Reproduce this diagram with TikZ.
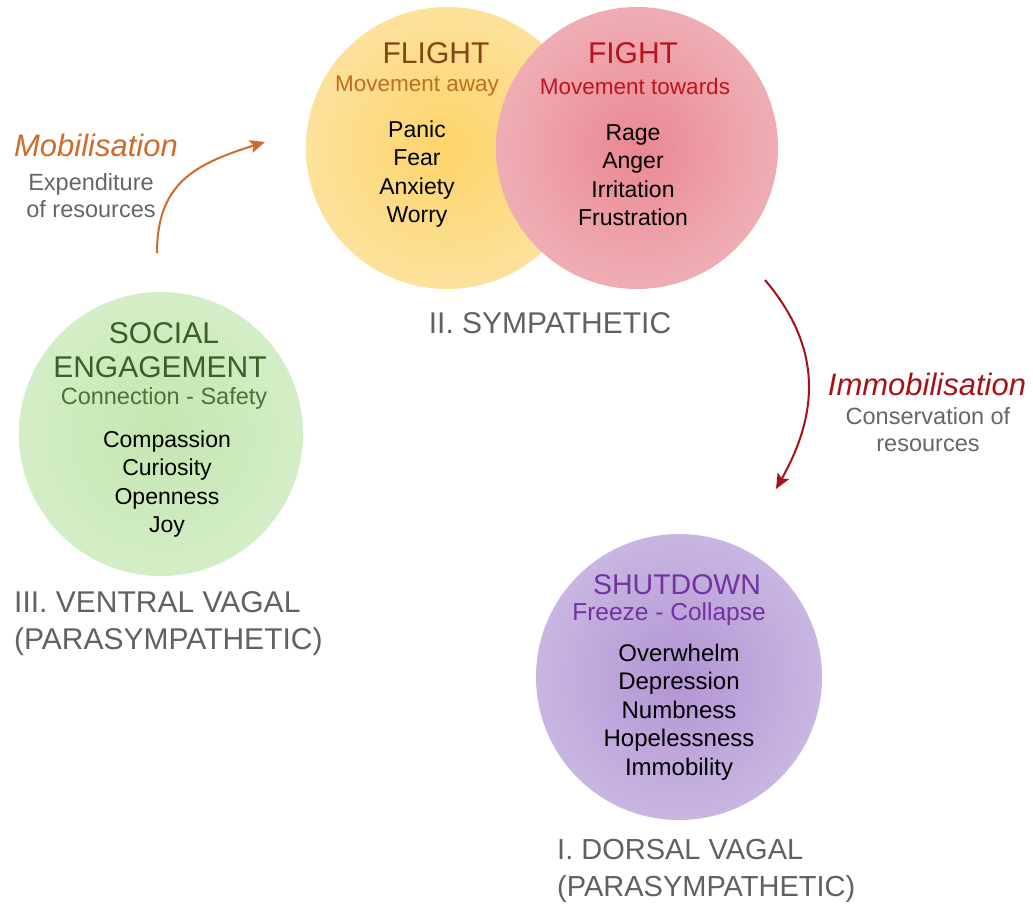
\documentclass[tikz,border=0pt]{standalone}
\usepackage{fontspec}
\setmainfont{Liberation Sans}
\usetikzlibrary{arrows.meta}

\newlength{\du}
\setlength{\du}{1\unitlength}

\definecolor{flightcore}{RGB}{253,212,105}
\definecolor{flightmid}{RGB}{253,224,150}
\definecolor{flightrim}{RGB}{254,236,190}
\definecolor{fightcore}{RGB}{234,135,146}
\definecolor{fightmid}{RGB}{239,170,177}
\definecolor{fightrim}{RGB}{243,196,200}
\definecolor{socialcore}{RGB}{196,230,176}
\definecolor{socialmid}{RGB}{210,237,196}
\definecolor{socialrim}{RGB}{224,244,215}
\definecolor{shutcore}{RGB}{178,148,212}
\definecolor{shutmid}{RGB}{198,178,224}
\definecolor{shutrim}{RGB}{220,208,238}
\pgfdeclareradialshading{flightglow}{\pgfpoint{0bp}{0bp}}{color(0bp)=(flightcore); color(22bp)=(flightmid); color(50bp)=(flightrim)}
\pgfdeclareradialshading{fightglow}{\pgfpoint{0bp}{0bp}}{color(0bp)=(fightcore); color(22bp)=(fightmid); color(50bp)=(fightrim)}
\pgfdeclareradialshading{socialglow}{\pgfpoint{0bp}{0bp}}{color(0bp)=(socialcore); color(22bp)=(socialmid); color(50bp)=(socialrim)}
\pgfdeclareradialshading{shutglow}{\pgfpoint{0bp}{0bp}}{color(0bp)=(shutcore); color(22bp)=(shutmid); color(50bp)=(shutrim)}

\tikzset{
  head/.style={inner sep=0pt, font=\fontsize{30}{34}\selectfont},
  sub/.style={inner sep=0pt, font=\fontsize{22.5}{27}\selectfont},
  feel/.style={inner sep=0pt, align=center, font=\fontsize{23}{28.5}\selectfont},
  branch/.style={inner sep=0pt, anchor=west, align=left, text=greylabel, font=\fontsize{30}{37}\selectfont},
  flow/.style={inner sep=0pt, font=\fontsize{31}{36}\selectfont\itshape},
  note/.style={inner sep=0pt, align=center, text=greynote, font=\fontsize{23.5}{27}\selectfont},
  sweep/.style={line width=2pt, -{Stealth[length=15pt, width=13pt, inset=3pt]}},
}

\begin{document}
\begin{tikzpicture}
  \pgftransformxscale{1.000000}
  \pgftransformyscale{-1.000000}
  \definecolor{greylabel}{rgb}{0.380, 0.380, 0.380}
  \definecolor{greynote}{rgb}{0.400, 0.400, 0.400}
  \definecolor{orangeflow}{rgb}{0.820, 0.420, 0.160}
  \definecolor{redflow}{rgb}{0.650, 0.070, 0.090}
  \useasboundingbox[fill=white] (0\du,0\du) rectangle (1033\du,904\du);
  % the four states
  \shade[shading=flightglow] (447\du,148\du) circle (141\du);
  \shade[shading=fightglow] (637\du,148\du) circle (141\du);
  \shade[shading=socialglow] (161\du,434\du) circle (142\du);
  \shade[shading=shutglow] (679\du,677\du) circle (143\du);
  % flight
  \node[head, text={rgb,255:red,130;green,70;blue,20}] (flight) at (436\du,53\du) {FLIGHT};
  \node[sub, text={rgb,255:red,190;green,110;blue,30}] (flightsub) at (417\du,86\du) {Movement away};
  \node[feel] (flightlist) at (417\du,174\du) {Panic\\Fear\\Anxiety\\Worry};
  % fight
  \node[head, text={rgb,255:red,180;green,20;blue,30}] (fight) at (633\du,53\du) {FIGHT};
  \node[sub, text={rgb,255:red,190;green,20;blue,30}] (fightsub) at (635\du,86\du) {Movement towards};
  \node[feel] (fightlist) at (633\du,175\du) {Rage\\Anger\\Irritation\\Frustration};
  \node[branch, anchor=center] (symp) at (550\du,323\du) {II. SYMPATHETIC};
  % social engagement
  \node[head, text={rgb,255:red,60;green,95;blue,40}] (social) at (164\du,333\du) {SOCIAL};
  \node[head, text={rgb,255:red,60;green,95;blue,40}] (engage) at (160\du,367\du) {ENGAGEMENT};
  \node[sub, font=\fontsize{23.5}{27}\selectfont, text={rgb,255:red,75;green,115;blue,55}] (socialsub) at (164\du,398\du) {Connection - Safety};
  \node[feel] (sociallist) at (167\du,484\du) {Compassion\\Curiosity\\Openness\\Joy};
  \node[branch] (ventral) at (14\du,624\du) {III. VENTRAL VAGAL\\(PARASYMPATHETIC)};
  % shutdown
  \node[head, font=\fontsize{28.5}{34}\selectfont, text={rgb,255:red,115;green,50;blue,160}] (shut) at (677\du,585\du) {SHUTDOWN};
  \node[sub, font=\fontsize{24.5}{28}\selectfont, text={rgb,255:red,115;green,50;blue,160}] (shutsub) at (669\du,614\du) {Freeze - Collapse};
  \node[feel, font=\fontsize{24}{28.5}\selectfont] (shutlist) at (679\du,712\du) {Overwhelm\\Depression\\Numbness\\Hopelessness\\Immobility};
  \node[branch, font=\fontsize{29}{37}\selectfont] (dorsal) at (557\du,871\du) {I. DORSAL VAGAL\\(PARASYMPATHETIC)};
  % transitions
  \node[flow, text=orangeflow] (mobil) at (96\du,145\du) {Mobilisation};
  \node[note] (mobilnote) at (91\du,196\du) {Expenditure\\of resources};
  \node[flow, text=redflow] (immobil) at (927\du,384\du) {Immobilisation};
  \node[note] (immobilnote) at (928\du,430\du) {Conservation of\\resources};
  \coordinate (mobilfrom) at (157\du,253\du);
  \coordinate (mobilto) at (265\du,142\du);
  \coordinate (immobilfrom) at (765\du,280\du);
  \coordinate (immobilto) at (776\du,489\du);
  \draw[sweep, orangeflow] (mobilfrom) .. controls +(0pt,-70pt) and +(-70pt,22pt) .. (mobilto);
  \draw[sweep, redflow] (immobilfrom) .. controls +(55pt,65pt) and +(45pt,-80pt) .. (immobilto);
\end{tikzpicture}
\end{document}
